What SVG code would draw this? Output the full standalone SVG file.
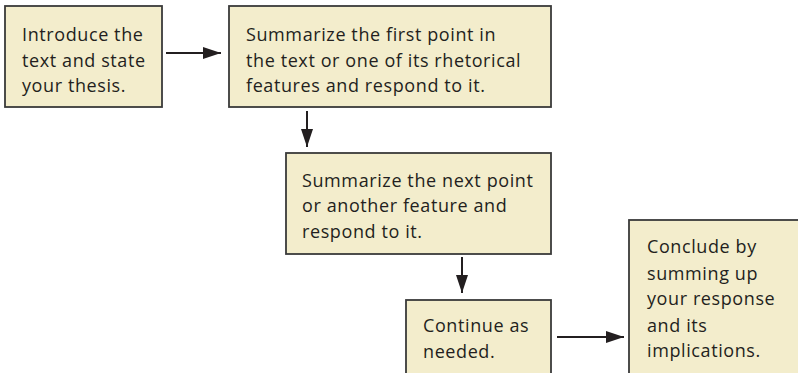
<svg xmlns="http://www.w3.org/2000/svg" width="798" height="373" viewBox="0 0 798 373">
<defs>
<style>
.box{fill:#f3edcc;stroke:#3a3a3a;stroke-width:1.8}
.t{font-family:"Open Sans","DejaVu Sans",sans-serif;font-size:18px;letter-spacing:0.6px;fill:#231f20}
.c{stroke:#231f20;stroke-width:2;fill:none}
</style>
<marker id="a" viewBox="0 0 18 12" refX="18" refY="6" markerWidth="18" markerHeight="12" markerUnits="userSpaceOnUse" orient="auto">
<path d="M0,0 L18,6 L0,12 z" fill="#231f20"/>
</marker>
</defs>
<rect width="798" height="373" fill="#fff"/>
<g id="n1">
<rect class="box" x="5" y="6" width="157" height="101"/>
<text class="t"><tspan x="22" y="41">Introduce the</tspan><tspan x="22" y="67">text and state</tspan><tspan x="22" y="92">your thesis.</tspan></text>
</g>
<g id="n2">
<rect class="box" x="229" y="6" width="322" height="101"/>
<text class="t"><tspan x="246" y="41">Summarize the first point in</tspan><tspan x="246" y="67">the text or one of its rhetorical</tspan><tspan x="246" y="92">features and respond to it.</tspan></text>
</g>
<g id="n3">
<rect class="box" x="286" y="153" width="265" height="101"/>
<text class="t"><tspan x="302" y="187">Summarize the next point</tspan><tspan x="302" y="212">or another feature and</tspan><tspan x="302" y="238">respond to it.</tspan></text>
</g>
<g id="n4">
<rect class="box" x="406" y="300" width="145" height="90"/>
<text class="t"><tspan x="423" y="332">Continue as</tspan><tspan x="423" y="358">needed.</tspan></text>
</g>
<g id="n5">
<rect class="box" x="629" y="220" width="180" height="170"/>
<text class="t"><tspan x="647" y="253">Conclude by</tspan><tspan x="647" y="280">summing up</tspan><tspan x="647" y="305">your response</tspan><tspan x="647" y="332">and its</tspan><tspan x="647" y="357">implications.</tspan></text>
</g>
<g id="connectors">
<line class="c" x1="166" y1="53" x2="221" y2="53" marker-end="url(#a)"/>
<line class="c" x1="307" y1="111" x2="307" y2="147" marker-end="url(#a)"/>
<line class="c" x1="462" y1="257" x2="462" y2="293" marker-end="url(#a)"/>
<line class="c" x1="557" y1="337" x2="624" y2="337" marker-end="url(#a)"/>
</g>
</svg>
